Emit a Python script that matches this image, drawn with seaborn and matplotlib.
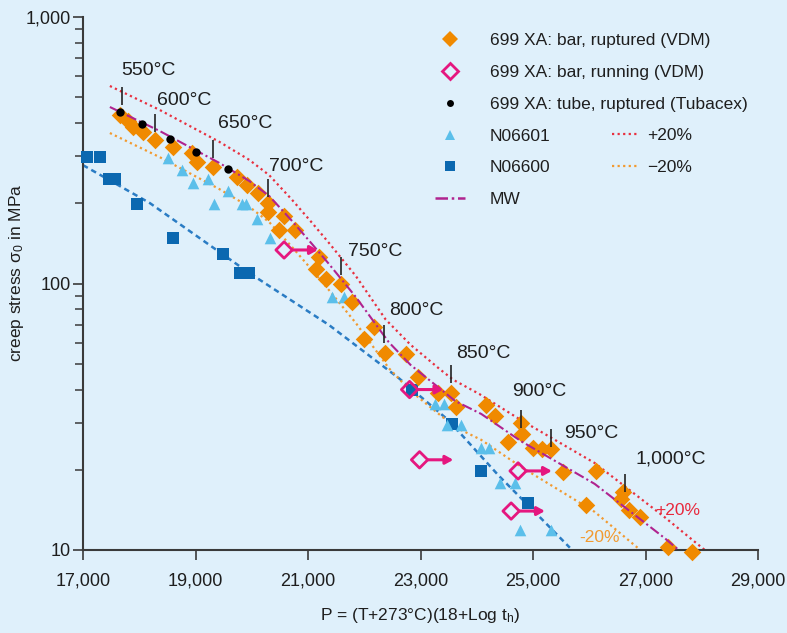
import numpy as np
import pandas as pd
import matplotlib
matplotlib.use("Agg")
import matplotlib.pyplot as plt
import seaborn as sns
from matplotlib.lines import Line2D
from matplotlib.ticker import FuncFormatter, LogLocator, NullFormatter, FixedLocator

# ---------------- data ----------------
bar_P = [17655, 17797, 17885, 18062, 18274, 18593, 18929, 19018, 19319, 19744, 19921, 20115,
         20292, 20292, 20575, 20487, 20770, 21195, 21142, 21319, 21584, 21779, 22168, 21991,
         22363, 22735, 22947, 23319, 23549, 23638, 24169, 24328, 24788, 24806, 24558, 25000,
         25160, 25319, 25531, 26116, 25939, 26593, 26558, 26700, 26894, 27408, 27832]
bar_sigma = [429, 407, 387, 370, 346, 325, 309, 286, 274, 251, 234, 219,
             200, 185, 179, 159, 159, 126, 113, 104, 99.6, 85, 68.7, 61.9,
             54.9, 54.4, 44.6, 38.8, 38.8, 34.4, 35.0, 31.8, 30.0, 27.2, 25.4, 24.1,
             24.0, 24.0, 19.6, 19.8, 14.8, 16.5, 15.5, 14.1, 13.3, 10.3, 9.8]

run_P = [20575, 22806, 22983, 24735, 24611]
run_sigma = [133.6, 40, 21.8, 19.8, 14.0]

tube_P = [17655, 18044, 18540, 19000, 19584]
tube_sigma = [440, 397, 348, 311, 269]

n06601_P = [18505, 18752, 18947, 19230, 19584, 19336, 19832, 19903, 20098, 20328, 21425, 21637,
            23266, 23425, 23478, 23726, 24080, 24222, 24416, 24682, 24770, 25319]
n06601_sigma = [296, 267, 238, 247, 222, 199, 199, 199, 175, 148, 89, 89,
                35.3, 35.3, 29.4, 29.4, 24.1, 24.1, 17.8, 17.8, 11.9, 11.9]

n06600_P = [17071, 17301, 17460, 17566, 17956, 18593, 19496, 19797, 19956, 22841, 23567, 24080, 24912]
n06600_sigma = [298, 298, 247, 247, 199, 148, 129, 109.5, 109.5, 39.8, 29.7, 19.8, 15.0]

mw_P = [17478, 18363, 19425, 19956, 20310, 20717, 21071, 21372, 21850, 22434, 22823, 23372,
        23619, 24080, 24788, 26097, 27336, 27566]
mw_sigma = [459.5, 373.5, 283.3, 242.4, 213, 171.6, 140.7, 118.4, 89.0, 60.3, 49.5, 39.9,
            36.2, 32.4, 25.6, 17.7, 11.1, 10.1]

plus_P = [17478, 18363, 19425, 19956, 20310, 20717, 21071, 21372, 21850, 22380, 22823, 23337,
          23584, 24045, 24788, 26097, 27336, 28097]
plus_sigma = [551, 448, 340, 291, 255, 206, 169, 142, 106.7, 73.3, 58.9, 47.8,
              43.5, 38.5, 30.7, 21.2, 13.3, 9.83]

minus_P = [17478, 18363, 19425, 19956, 20310, 20717, 21071, 21372, 21850, 22434, 22823, 23372,
           23619, 24080, 24788, 26097, 26858]
minus_sigma = [367, 298, 226, 194, 170, 137, 112.4, 94.5, 71.1, 48.2, 39.5, 31.8,
               28.9, 25.9, 20.5, 13.9, 10.2]

fit_P = [17000, 18186, 19956, 21372, 22611, 23496, 24381, 25089, 25655]
fit_sigma = [278, 200.5, 109.5, 69.9, 44.2, 30.7, 19.1, 13.5, 10.2]

temp_labels = ['550°C', '600°C', '650°C', '700°C', '750°C', '800°C', '850°C', '900°C', '950°C', '1,000°C']
temp_P = [17690, 18274, 19319, 20292, 21584, 22345, 23549, 24788, 25319, 26629]
temp_sigma = [468, 370, 296, 211, 107.6, 59.8, 42.3, 28.7, 24.3, 16.5]

x_ticks = [17000, 19000, 21000, 23000, 25000, 27000, 29000]
y_ticks = [10, 100, 1000]

# ---------------- style ----------------
BG = '#dff0fb'
ORANGE = '#f08a00'
PINK = '#e5177f'
LBLUE = '#5bbfea'
DBLUE = '#0b68b0'
MWC = '#b0238f'
RED = '#e8303f'
ORG2 = '#f29a30'
FITC = '#2a7cc4'
TXT = '#1e1e1e'

sns.set_style('ticks', {'axes.facecolor': BG, 'figure.facecolor': BG})
plt.rcParams['font.family'] = ['Liberation Sans', 'DejaVu Sans']
plt.rcParams['mathtext.fontset'] = 'custom'
plt.rcParams['mathtext.rm'] = 'Liberation Sans'
plt.rcParams['mathtext.it'] = 'Liberation Sans:italic'

fig = plt.figure(figsize=(7.87, 6.33), dpi=100)
ax = fig.add_axes([83 / 787, 1 - 550 / 633, 675 / 787, 533 / 633])
ax.set_facecolor(BG)

# ---------------- lines ----------------
sns.lineplot(x=fit_P, y=fit_sigma, ax=ax, estimator=None, sort=False, color=FITC,
             lw=1.8, linestyle=(0, (2.2, 1.6)), zorder=2)
sns.lineplot(x=minus_P, y=minus_sigma, ax=ax, estimator=None, sort=False, color=ORG2,
             lw=1.6, linestyle=(0, (1, 1.5)), zorder=2)
sns.lineplot(x=plus_P, y=plus_sigma, ax=ax, estimator=None, sort=False, color=RED,
             lw=1.6, linestyle=(0, (1, 1.5)), zorder=2)
sns.lineplot(x=mw_P, y=mw_sigma, ax=ax, estimator=None, sort=False, color=MWC,
             lw=1.5, linestyle=(0, (5, 1.5, 1, 1.5)), zorder=4)

# ---------------- markers ----------------
sns.scatterplot(x=n06600_P, y=n06600_sigma, ax=ax, marker='s', s=70, color=DBLUE,
                linewidth=0, zorder=3, clip_on=False)
sns.scatterplot(x=n06601_P, y=n06601_sigma, ax=ax, marker='^', s=70, color=LBLUE,
                linewidth=0, zorder=3, clip_on=False)
sns.scatterplot(x=bar_P, y=bar_sigma, ax=ax, marker='D', s=80, color=ORANGE,
                linewidth=0, zorder=3, clip_on=False)
sns.scatterplot(x=tube_P, y=tube_sigma, ax=ax, marker='o', s=36, color='black',
                linewidth=0, zorder=5)
sns.scatterplot(x=run_P, y=run_sigma, ax=ax, marker='D', s=70, facecolor='none',
                edgecolor=PINK, linewidth=2.0, zorder=5)

arrow_len = 600
for p, s in zip(run_P, run_sigma):
    ax.annotate('', xy=(p + arrow_len, s), xytext=(p, s), xycoords='data', textcoords='data',
                arrowprops=dict(arrowstyle='-|>,head_length=0.45,head_width=0.25', color=PINK,
                                lw=2.2, shrinkA=6, shrinkB=0), zorder=5)

# temperature marks
top = [v * 1.17 for v in temp_sigma]
ax.vlines(temp_P, temp_sigma, top, color='#222222', lw=1.2, zorder=6)
offsets = [(-0.7, 11.5), (1.4, 9.4), (3.6, 11.5), (0.7, 8.6), (5, 3.6), (3.6, 10),
           (3.6, 8), (-6.5, 13), (9.4, -2.9), (7.9, 10.8)]
for lab, p, t, off in zip(temp_labels, temp_P, top, offsets):
    ax.annotate(lab, xy=(p, t), xytext=off, textcoords='offset points', ha='left',
                va='center', fontsize=14, color=TXT, zorder=7)

ax.text(27567, 14.1, '+20%', color='#e8283c', fontsize=12.5, ha='center', va='center')
ax.text(26186, 11.1, '-20%', color=ORG2, fontsize=12.5, ha='center', va='center')

# ---------------- axes ----------------
ax.set_yscale('log')
ax.set_xlim(17000, 29000)
ax.set_ylim(10, 1000)
ax.xaxis.set_major_locator(FixedLocator(x_ticks))
ax.yaxis.set_major_locator(FixedLocator(y_ticks))
ax.yaxis.set_minor_locator(LogLocator(base=10, subs=np.arange(2, 10)))
ax.yaxis.set_minor_formatter(NullFormatter())
fmt = FuncFormatter(lambda v, _: f'{v:,.0f}')
ax.xaxis.set_major_formatter(fmt)
ax.yaxis.set_major_formatter(fmt)
ax.xaxis.set_minor_locator(FixedLocator([]))

for side in ['top', 'right']:
    ax.spines[side].set_visible(False)
for side in ['left', 'bottom']:
    ax.spines[side].set_color('#3a3a3a')
    ax.spines[side].set_linewidth(1.5)

ax.tick_params(axis='both', which='major', direction='out', length=7, width=1.2,
               color='#3a3a3a', labelsize=13, labelcolor=TXT)
ax.tick_params(axis='x', which='major', pad=9)
ax.tick_params(axis='y', which='major', pad=2)
ax.tick_params(axis='y', which='minor', direction='out', length=5.5, width=1.1, color='#3a3a3a')

ax.set_xlabel('P = (T+273°C)(18+Log t$_\\mathrm{h}$)', fontsize=12.5, color=TXT, labelpad=12)
ax.set_ylabel('creep stress σ$_0$ in MPa', fontsize=12.5, color=TXT)
ax.yaxis.set_label_coords(-0.085, 0.52)

# ---------------- legends ----------------
h1 = [
    Line2D([], [], marker='D', ls='none', color=ORANGE, markersize=8.5, markeredgewidth=0),
    Line2D([], [], marker='D', ls='none', markerfacecolor='none', markeredgecolor=PINK,
           markersize=8, markeredgewidth=2),
    Line2D([], [], marker='o', ls='none', color='black', markersize=5, markeredgewidth=0),
    Line2D([], [], marker='^', ls='none', color=LBLUE, markersize=7.5, markeredgewidth=0),
    Line2D([], [], marker='s', ls='none', color=DBLUE, markersize=7.5, markeredgewidth=0),
    Line2D([], [], color=MWC, lw=1.8, ls=(0, (5, 1.5, 1, 1.5))),
]
l1 = ['699 XA: bar, ruptured (VDM)', '699 XA: bar, running (VDM)',
      '699 XA: tube, ruptured (Tubacex)', 'N06601', 'N06600', 'MW']
leg1 = ax.legend(h1, l1, loc='upper left', bbox_to_anchor=(435 / 787, 1 - 33 / 633),
                 bbox_transform=fig.transFigure, frameon=False, fontsize=12.5,
                 handlelength=1.72, handletextpad=1.44, labelspacing=0.96,
                 borderpad=0, borderaxespad=0, labelcolor=TXT)
ax.add_artist(leg1)
h2 = [Line2D([], [], color=RED, lw=1.6, ls=(0, (1, 1.5))),
      Line2D([], [], color=ORG2, lw=1.6, ls=(0, (1, 1.5)))]
leg2 = ax.legend(h2, ['+20%', '\u221220%'], loc='upper left',
                 bbox_to_anchor=(612 / 787, 1 - 128 / 633), bbox_transform=fig.transFigure,
                 frameon=False, fontsize=12.5, handlelength=1.44, handletextpad=0.57,
                 labelspacing=0.96, borderpad=0, borderaxespad=0, labelcolor=TXT)

fig.savefig('out.png', dpi=100, facecolor=BG)
